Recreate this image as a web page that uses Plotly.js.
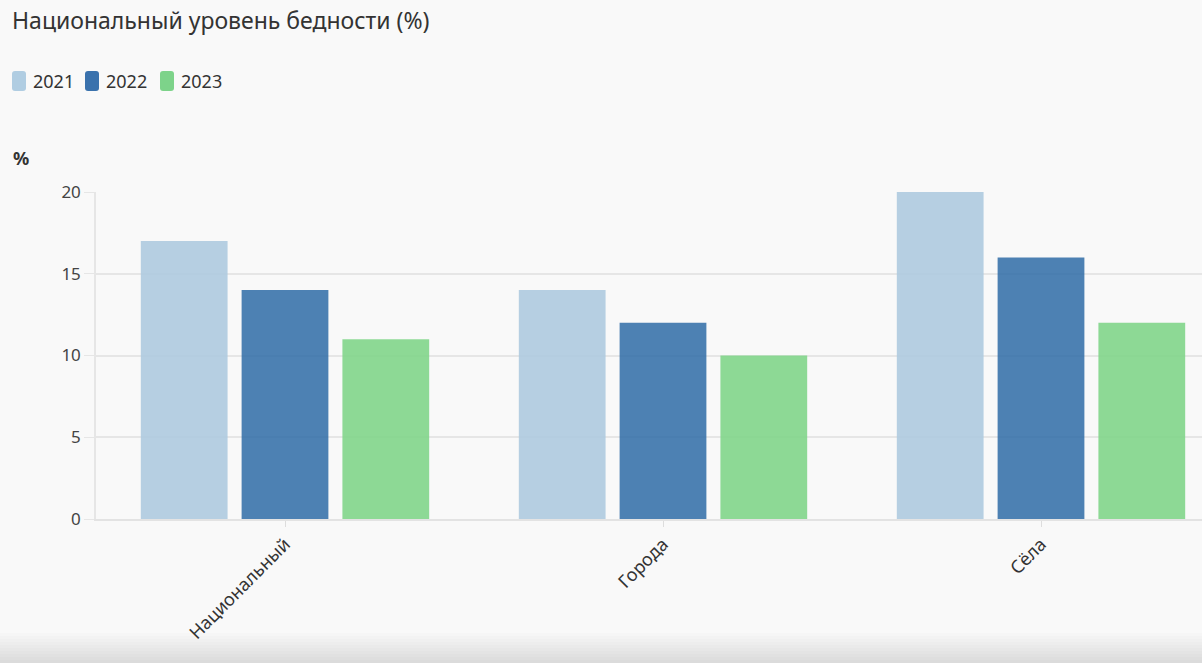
<!DOCTYPE html>
<html>
<head>
<meta charset="utf-8">
<script src="https://cdn.plot.ly/plotly-3.0.1.min.js"></script>
<style>
html,body{margin:0;padding:0;background:#f9f9f9;}
#chart{width:1202px;height:663px;}
</style>
</head>
<body>
<div id="chart"></div>
<script>
const categories = ["Национальный", "Города", "Сёла"];
const years = ["2021", "2022", "2023"];
const values2021 = [17, 14, 20];
const values2022 = [14, 12, 16];
const values2023 = [11, 10, 12];
const yTicks = [0, 5, 10, 15, 20];

const seriesValues = [values2021, values2022, values2023];
const colors = ["rgba(170,200,222,0.85)", "rgba(52,112,168,0.88)", "rgba(122,212,132,0.85)"];
const swatchColors = ["#b0cde2", "#3a72ad", "#7dd38a"];

const traces = years.map((y, i) => ({
  type: "bar",
  name: y,
  x: categories,
  y: seriesValues[i],
  marker: {color: colors[i], line: {width: 0}},
  hoverinfo: "x+y+name",
  showlegend: false
}));

const font = "'Noto Sans', 'Open Sans', sans-serif";

// pixel -> paper helpers (plot area: x 96..1202, y 192..519)
const L = 96, W = 1106, T = 192, H = 327;
const px = v => (v - L) / W;
const py = v => (T + H - v) / H;

const shapes = [];
// bottom shadow gradient
for (let k = 0; k < 10; k++) {
  shapes.push({
    type: "rect", xref: "paper", yref: "paper",
    x0: px(0), x1: 1, y0: py(663), y1: py(633 + k*3),
    fillcolor: "rgba(0,0,0,0.012)", line: {width: 0}, layer: "below"
  });
}

// custom legend with rounded swatches
const annotations = [];
const legendStarts = [12, 85, 160];
years.forEach((y, i) => {
  const x0 = legendStarts[i], x1 = x0 + 14, y0 = 71, y1 = 91, r = 3;
  const path = `M ${px(x0 + r)},${py(y0)} L ${px(x1 - r)},${py(y0)} Q ${px(x1)},${py(y0)} ${px(x1)},${py(y0 + r)} ` +
               `L ${px(x1)},${py(y1 - r)} Q ${px(x1)},${py(y1)} ${px(x1 - r)},${py(y1)} ` +
               `L ${px(x0 + r)},${py(y1)} Q ${px(x0)},${py(y1)} ${px(x0)},${py(y1 - r)} ` +
               `L ${px(x0)},${py(y0 + r)} Q ${px(x0)},${py(y0)} ${px(x0 + r)},${py(y0)} Z`;
  shapes.push({type: "path", xref: "paper", yref: "paper", path: path,
               fillcolor: swatchColors[i], line: {width: 0}});
  annotations.push({text: y, xref: "paper", yref: "paper", x: px(x1 + 5), y: py(81),
                    xanchor: "left", yanchor: "middle", showarrow: false,
                    font: {family: font, size: 18, color: "#333"}});
});

annotations.push({
  text: "<b>%</b>", xref: "paper", yref: "paper", x: px(11), y: py(158),
  xanchor: "left", yanchor: "middle", showarrow: false,
  font: {family: font, size: 18, color: "#333"}
});

const layout = {
  width: 1202, height: 663,
  paper_bgcolor: "#f9f9f9", plot_bgcolor: "#f9f9f9",
  font: {family: font, color: "#333", size: 16},
  margin: {l: 96, r: 0, t: 192, b: 144},
  title: {text: "Национальный уровень бедности (%)", x: 12/1202, xanchor: "left", xref: "container",
          y: 1 - 21/663, yref: "container", yanchor: "middle",
          font: {family: font, size: 23, color: "#333"}},
  showlegend: false,
  barmode: "group", bargap: 0.2, bargroupgap: 0.139,
  xaxis: {
    type: "category", range: [-0.5, -0.5 + 1106/378],
    tickangle: -45, ticks: "outside", ticklen: 6, tickcolor: "#ddd",
    showline: true, linecolor: "#e3e3e3", linewidth: 1.5, showgrid: false,
    tickfont: {family: font, size: 18, color: "#333"}, fixedrange: true
  },
  yaxis: {
    range: [0, 20], tickvals: yTicks, ticktext: yTicks.map(String),
    showgrid: true, gridcolor: "#e6e6e6", gridwidth: 1.5,
    ticks: "outside", ticklen: 10, tickcolor: "#e6e6e6",
    showline: true, linecolor: "#e6e6e6", linewidth: 1.5, zeroline: false,
    tickfont: {family: font, size: 17, color: "#444"}, fixedrange: true
  },
  annotations: annotations,
  shapes: shapes
};

Plotly.newPlot("chart", traces, layout, {displayModeBar: false, responsive: false});
</script>
</body>
</html>
